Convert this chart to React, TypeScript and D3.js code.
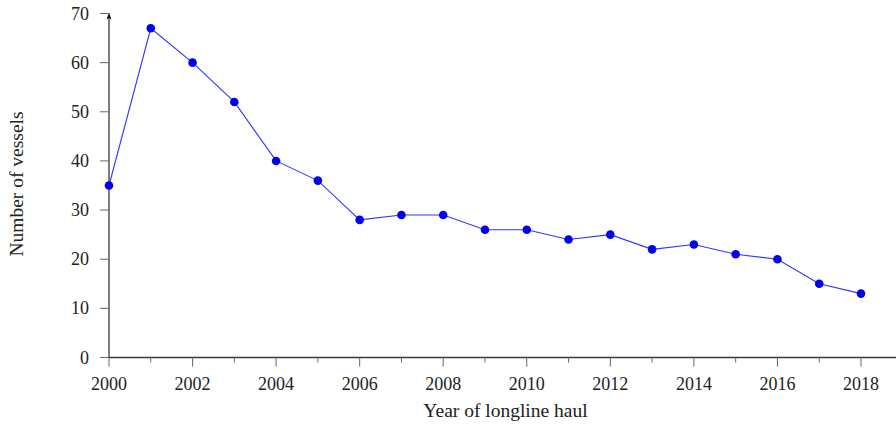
import React, { useEffect, useRef } from "react";
import * as d3 from "d3";

const years = [2000, 2001, 2002, 2003, 2004, 2005, 2006, 2007, 2008, 2009, 2010, 2011, 2012, 2013, 2014, 2015, 2016, 2017, 2018];
const vessels = [35, 67, 60, 52, 40, 36, 28, 29, 29, 26, 26, 24, 25, 22, 23, 21, 20, 15, 13];
const xMajorTicks = [2000, 2002, 2004, 2006, 2008, 2010, 2012, 2014, 2016, 2018];
const xMinorTicks = [2001, 2003, 2005, 2007, 2009, 2011, 2013, 2015, 2017];
const yTicks = [0, 10, 20, 30, 40, 50, 60, 70];
const xLabel = "Year of longline haul";
const yLabel = "Number of vessels";

const W = 896, H = 426;
const FONT = "'Liberation Serif', 'Times New Roman', serif";

export default function App() {
  const ref = useRef<SVGSVGElement>(null);
  useEffect(() => {
    const svg = d3.select(ref.current);
    svg.selectAll("*").remove();
    const x = d3.scaleLinear().domain([2000, 2018]).range([109, 861]);
    const y = d3.scaleLinear().domain([0, 70]).range([357.5, 13.5]);
    const axisColor = "#3a3a3a";

    svg.append("line").attr("x1", x(2000)).attr("x2", W + 5).attr("y1", y(0)).attr("y2", y(0))
      .attr("stroke", axisColor).attr("stroke-width", 1.3);
    svg.append("line").attr("x1", x(2000)).attr("x2", x(2000)).attr("y1", y(0)).attr("y2", y(70) + 4)
      .attr("stroke", axisColor).attr("stroke-width", 1.3);
    const ax = x(2000), ay = y(70) - 1;
    svg.append("path").attr("d", `M${ax},${ay} L${ax - 2.5},${ay + 7} L${ax},${ay + 5.5} L${ax + 2.5},${ay + 7} Z`)
      .attr("fill", "#111");

    svg.selectAll(".xmaj").data(xMajorTicks).enter().append("line")
      .attr("x1", d => x(d)).attr("x2", d => x(d)).attr("y1", y(0)).attr("y2", y(0) + 9)
      .attr("stroke", "#666").attr("stroke-width", 1);
    svg.selectAll(".xmin").data(xMinorTicks).enter().append("line")
      .attr("x1", d => x(d)).attr("x2", d => x(d)).attr("y1", y(0)).attr("y2", y(0) + 5)
      .attr("stroke", "#666").attr("stroke-width", 1);
    svg.selectAll(".xlab").data(xMajorTicks).enter().append("text")
      .attr("x", d => x(d)).attr("y", 390).attr("text-anchor", "middle")
      .attr("font-family", FONT).attr("font-size", 18).attr("fill", "#222").text(d => d);

    svg.selectAll(".ytk").data(yTicks).enter().append("line")
      .attr("x1", x(2000) - 9).attr("x2", x(2000)).attr("y1", d => y(d)).attr("y2", d => y(d))
      .attr("stroke", "#666").attr("stroke-width", 1);
    svg.selectAll(".ylab").data(yTicks).enter().append("text")
      .attr("x", 89).attr("y", d => y(d) + 6).attr("text-anchor", "end")
      .attr("font-family", FONT).attr("font-size", 18).attr("fill", "#222").text(d => d);

    svg.append("text").attr("x", 505.5).attr("y", 417).attr("text-anchor", "middle")
      .attr("font-family", FONT).attr("font-size", 19.5).attr("fill", "#222").text(xLabel);
    svg.append("text").attr("transform", `translate(23,184) rotate(-90)`).attr("text-anchor", "middle")
      .attr("font-family", FONT).attr("font-size", 19.5).attr("fill", "#222").text(yLabel);

    const data = years.map((yr, i) => ({ yr, v: vessels[i] }));
    const line = d3.line<{ yr: number; v: number }>().x(d => x(d.yr)).y(d => y(d.v));
    svg.append("path").datum(data).attr("d", line).attr("fill", "none")
      .attr("stroke", "#3333ff").attr("stroke-width", 1.1);
    svg.selectAll(".pt").data(data).enter().append("circle")
      .attr("cx", d => x(d.yr)).attr("cy", d => y(d.v)).attr("r", 4.3).attr("fill", "#0000ee");
  }, []);
  return (
    <svg ref={ref} width={W} height={H} style={{ position: "absolute", left: 0, top: 0, background: "#fff" }} />
  );
}
